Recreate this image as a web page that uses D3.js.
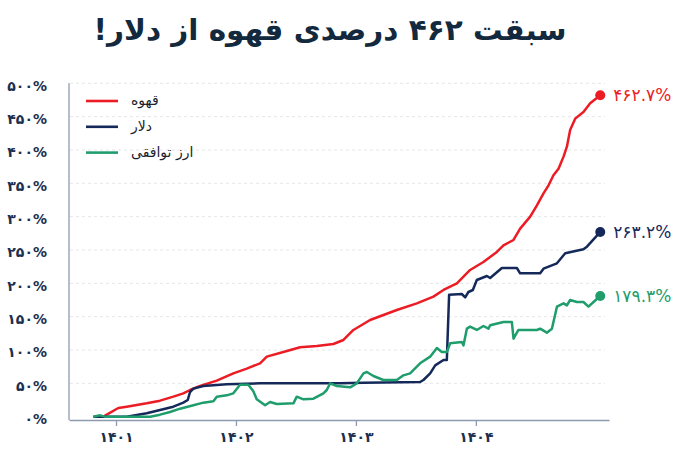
<!DOCTYPE html>
<html lang="fa">
<head>
	<meta charset="utf-8">
	<title>سبقت قهوه از دلار</title>
	<style type="text/css">
		body {
			margin: 0;
			background: #fff;
		}
		svg text {
			font-family: "DejaVu Sans", sans-serif;
		}
		.grid line {
			stroke: #e4e6ea;
			stroke-dasharray: 3,3;
		}
		.axis path,
		.axis line {
			stroke: #8d9bb0;
			stroke-width: 1.3;
		}
		.axis text {
			font-weight: bold;
			font-size: 14px;
			fill: #1c2f4f;
		}
	</style>
</head>
<body>
	<div id="vis"></div>

	<script src="https://cdn.jsdelivr.net/npm/d3@7"></script>
	<script type="text/javascript">

		var w = 680;
		var h = 453;

		// x values are fractional (solar hijri) years, y values are % change
		var yearTicks = [1401, 1402, 1403, 1404];
		var percentTicks = [0, 50, 100, 150, 200, 250, 300, 350, 400, 450, 500];

		var seriesNames = ["قهوه", "دلار", "ارز توافقی"];
		var seriesColors = ["#ec1c24", "#14295a", "#1f9d6c"];
		var finalLabels = [462.7, 263.2, 179.3];

		var coffee = [
			[1400.894, 0], [1401.019, 13], [1401.089, 15], [1401.256, 20], [1401.367, 24],
			[1401.478, 30], [1401.561, 35], [1401.617, 40], [1401.701, 46], [1401.840, 54],
			[1401.978, 65], [1402.090, 72], [1402.201, 80], [1402.257, 90], [1402.395, 97],
			[1402.535, 104], [1402.674, 106], [1402.812, 109], [1402.896, 115], [1402.979, 130],
			[1403.118, 145], [1403.341, 160], [1403.508, 170], [1403.646, 180], [1403.730, 190],
			[1403.842, 200], [1403.952, 220], [1404.063, 232], [1404.175, 247], [1404.230, 257],
			[1404.314, 265], [1404.369, 282], [1404.453, 300], [1404.509, 317], [1404.564, 335],
			[1404.606, 347], [1404.647, 362], [1404.689, 372], [1404.731, 390], [1404.759, 405],
			[1404.786, 430], [1404.828, 447], [1404.897, 457], [1404.953, 470], [1405.037, 482]
		];

		var dollar = [
			[1400.811, 0], [1401.089, 0], [1401.256, 5], [1401.367, 10], [1401.478, 15],
			[1401.561, 21], [1401.598, 25], [1401.617, 37], [1401.645, 42], [1401.728, 46],
			[1401.923, 48.5], [1402.201, 50], [1402.868, 50], [1403.063, 51], [1403.535, 52],
			[1403.563, 55], [1403.619, 65], [1403.661, 77], [1403.730, 85], [1403.758, 85],
			[1403.777, 183], [1403.883, 184], [1403.911, 179], [1403.938, 187], [1403.975, 190],
			[1404.008, 205], [1404.092, 211], [1404.119, 208], [1404.217, 223], [1404.342, 223],
			[1404.369, 215], [1404.536, 215], [1404.564, 222], [1404.676, 230], [1404.745, 245],
			[1404.897, 251], [1404.926, 255], [1404.981, 266], [1405.037, 277]
		];

		var tavafoghi = [
			[1400.811, 0], [1400.867, 2], [1400.908, 0], [1401.284, 0], [1401.367, 3],
			[1401.450, 7], [1401.534, 12], [1401.645, 17], [1401.728, 21], [1401.812, 23],
			[1401.840, 30], [1401.923, 32], [1401.978, 35], [1402.034, 48], [1402.103, 48],
			[1402.145, 38], [1402.173, 26], [1402.243, 17], [1402.284, 22], [1402.340, 19],
			[1402.479, 20], [1402.507, 30], [1402.562, 26], [1402.646, 27], [1402.729, 35],
			[1402.757, 40], [1402.785, 50], [1402.841, 46], [1402.952, 44], [1403.007, 50],
			[1403.063, 65], [1403.091, 67], [1403.146, 61], [1403.229, 55], [1403.341, 55],
			[1403.396, 62], [1403.452, 65], [1403.535, 80], [1403.619, 90], [1403.675, 103],
			[1403.716, 97], [1403.758, 97], [1403.786, 110], [1403.883, 112], [1403.897, 107],
			[1403.925, 132], [1403.952, 135], [1404.008, 130], [1404.063, 136], [1404.105, 132],
			[1404.119, 137], [1404.230, 142], [1404.300, 142], [1404.314, 117], [1404.355, 130],
			[1404.509, 130], [1404.536, 132], [1404.592, 126], [1404.634, 132], [1404.676, 165],
			[1404.731, 170], [1404.759, 167], [1404.786, 175], [1404.842, 172], [1404.897, 172],
			[1404.939, 165], [1404.981, 172], [1405.037, 181]
		];

		var allSeries = [coffee, dollar, tavafoghi];

		//Persian digits
		var faDigits = "۰۱۲۳۴۵۶۷۸۹";
		function toFa(v) {
			return String(v).replace(/[0-9]/g, function(c) { return faDigits[+c]; });
		}

		var xScale = d3.scaleLinear()
						.domain([1400.608, 1405.11])
						.range([69, 609]);

		var yScale = d3.scaleLinear()
						.domain([-5, 500])
						.range([420, 83.3]);

		//Create SVG element
		var svg = d3.select("#vis")
					.append("svg")
					.attr("width", w)
					.attr("height", h);

		//Title
		svg.append("text")
			.attr("x", 330)
			.attr("y", 40)
			.attr("text-anchor", "middle")
			.attr("direction", "rtl")
			.attr("font-size", "29.5px")
			.attr("font-weight", "bold")
			.attr("fill", "#13293d")
			.text("سبقت " + toFa(462) + " درصدی قهوه از دلار!");

		//Gridlines
		svg.append("g")
			.attr("class", "grid")
			.selectAll("line")
			.data(percentTicks.filter(function(d) { return d > 0; }))
			.enter()
			.append("line")
			.attr("x1", 70)
			.attr("x2", 605)
			.attr("y1", function(d) { return yScale(d); })
			.attr("y2", function(d) { return yScale(d); });

		//Create X axis
		var xAxis = d3.axisBottom(xScale)
						.tickValues(yearTicks)
						.tickSize(6)
						.tickSizeOuter(0)
						.tickPadding(6)
						.tickFormat(function(d) { return toFa(d); });

		svg.append("g")
			.attr("class", "axis")
			.attr("transform", "translate(0,420)")
			.call(xAxis);

		//Create Y axis
		var yAxis = d3.axisLeft(yScale)
						.tickValues(percentTicks)
						.tickSize(0)
						.tickPadding(22)
						.tickFormat(function(d) { return toFa(d) + "%"; });

		var yG = svg.append("g")
			.attr("class", "axis")
			.attr("transform", "translate(69,0)")
			.call(yAxis);
		yG.select(".domain").remove();
		yG.selectAll(".tick text").attr("dy", "0.5em");
		yG.append("line")
			.attr("x1", 0).attr("x2", 0)
			.attr("y1", yScale(500)).attr("y2", 420);

		//Create lines
		var line = d3.line()
					.x(function(d) { return xScale(d[0]); })
					.y(function(d) { return yScale(d[1]); });

		svg.selectAll("path.series")
			.data(allSeries)
			.enter()
			.append("path")
			.attr("class", "series")
			.attr("d", line)
			.attr("fill", "none")
			.attr("stroke", function(d, i) { return seriesColors[i]; })
			.attr("stroke-width", 2.5)
			.attr("stroke-linejoin", "round");

		//End dots and labels
		svg.selectAll("circle.end")
			.data(allSeries)
			.enter()
			.append("circle")
			.attr("class", "end")
			.attr("cx", function(d) { return xScale(d[d.length - 1][0]); })
			.attr("cy", function(d) { return yScale(d[d.length - 1][1]); })
			.attr("r", 5)
			.attr("fill", function(d, i) { return seriesColors[i]; });

		svg.selectAll("text.end")
			.data(allSeries)
			.enter()
			.append("text")
			.attr("class", "end")
			.attr("x", function(d) { return xScale(d[d.length - 1][0]) + 13; })
			.attr("y", function(d) { return yScale(d[d.length - 1][1]); })
			.attr("dy", "0.35em")
			.attr("font-size", "17px")
			.attr("fill", function(d, i) { return seriesColors[i]; })
			.text(function(d, i) { return toFa(finalLabels[i]) + "%"; });

		//Legend
		var legend = svg.append("g")
			.selectAll("g")
			.data(seriesNames)
			.enter()
			.append("g")
			.attr("transform", function(d, i) { return "translate(86," + (101 + i * 25.8) + ")"; });

		legend.append("line")
			.attr("x1", 0)
			.attr("x2", 32)
			.attr("stroke", function(d, i) { return seriesColors[i]; })
			.attr("stroke-width", 2.6);

		legend.append("text")
			.attr("x", 45)
			.attr("dy", "0.3em")
			.attr("font-size", "14px")
			.attr("fill", "#1b1f2e")
			.text(function(d) { return d; });

	</script>
</body>
</html>
